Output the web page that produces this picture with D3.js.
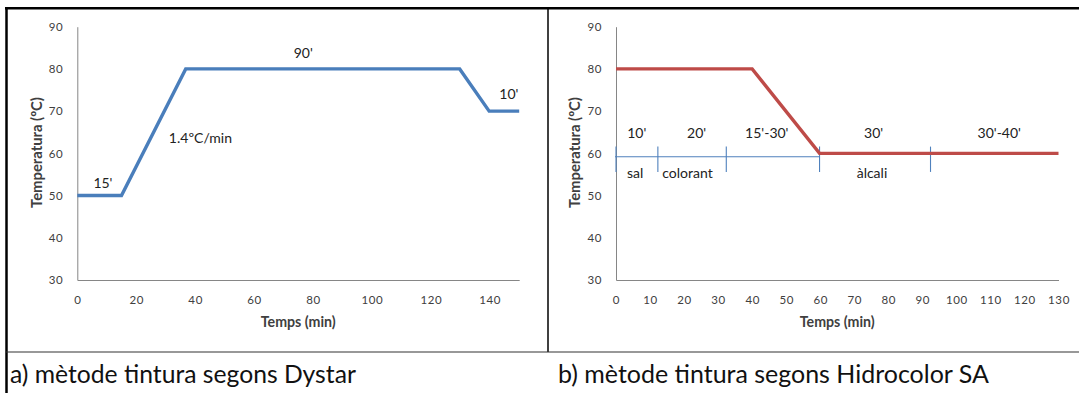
<!DOCTYPE html>
<html><head><meta charset="utf-8">
<script src="https://cdn.jsdelivr.net/npm/d3@7"></script>
<style>
html,body{margin:0;padding:0;background:#fff;}
svg{display:block;}
text{font-family:Lato,"Open Sans",sans-serif;}
</style></head>
<body>
<svg id="c" width="1079" height="393"></svg>
<script>
// ---- data ----
const yTicks = [30, 40, 50, 60, 70, 80, 90];
const xTicksA = [0, 20, 40, 60, 80, 100, 120, 140];
const xTicksB = [0, 10, 20, 30, 40, 50, 60, 70, 80, 90, 100, 110, 120, 130];

const dystarTime = [0, 15, 36.8, 129.8, 139.8, 150];
const dystarTemp = [50, 50, 80, 80, 70, 70];

const hidroTime = [0, 40, 59.8, 130];
const hidroTemp = [80, 80, 60, 60];

const annA = ["15'", "1.4ºC/min", "90'", "10'"];
const annAx = [8.7, 41.8, 76.7, 146.5];
const annAy = [52.9, 63.6, 83.7, 74.1];

const phaseTop = ["10'", "20'", "15'-30'", "30'", "30'-40'"];
const phaseTopX = [6.1, 23.7, 44.3, 75.7, 112.6];
const phaseTopY = 64.7;
const phaseBot = ["sal", "colorant", "àlcali"];
const phaseBotX = [5.6, 21, 75.2];
const phaseBotY = 55.3;
const phaseTicks = [0, 12.3, 32.4, 59.8, 92.4];
const phaseLineEnd = 59.8;
const phaseLineTemp = 59.2;
const phaseTickTop = 61.6, phaseTickBot = 55.6;

const captions = ["a) mètode tintura segons Dystar", "b) mètode tintura segons Hidrocolor SA"];
const xTitle = "Temps (min)";
const yTitle = "Temperatura (ºC)";

// ---- drawing ----
const svg = d3.select("#c");
const blue = "#4a7ebb", red = "#be4b48", axisCol = "#868686", txt = "#404040";

// frame
svg.append("line").attr("x1", 5).attr("x2", 1079).attr("y1", 8.3).attr("y2", 8.3).attr("stroke", "#000").attr("stroke-width", 2.5);
svg.append("line").attr("x1", 6.5).attr("x2", 6.5).attr("y1", 7).attr("y2", 393).attr("stroke", "#000").attr("stroke-width", 2.5);
svg.append("line").attr("x1", 548).attr("x2", 548).attr("y1", 8).attr("y2", 352).attr("stroke", "#000").attr("stroke-width", 1.5);
svg.append("line").attr("x1", 6).attr("x2", 1079).attr("y1", 352).attr("y2", 352).attr("stroke", "#333").attr("stroke-width", 1.2);

const y = d3.scaleLinear().domain([30, 90]).range([280, 26.7]);

function fitText(sel, w) {
  const l = sel.node().getComputedTextLength();
  const fs = parseFloat(sel.attr("font-size"));
  sel.attr("font-size", fs * w / l);
}

function panel(x, ticks, x0, titleX, yLabelRight) {
  const g = svg.append("g");
  // y axis
  const ya = g.append("g").attr("transform", `translate(${x0},0)`)
    .call(d3.axisLeft(y).tickValues(yTicks).tickSize(0).tickPadding(14));
  ya.select(".domain").attr("stroke", axisCol);
  ya.selectAll("text").attr("fill", txt).attr("font-size", 11.5).attr("font-family", "Lato").style("letter-spacing", "0.6px");
  // x axis
  const xa = g.append("g").attr("transform", `translate(0,${y(30)})`)
    .call(d3.axisBottom(x).tickValues(ticks).tickSize(0).tickPadding(16));
  xa.select(".domain").attr("stroke", axisCol);
  xa.selectAll("text").attr("fill", txt).attr("font-size", 11.5).attr("font-family", "Lato").style("letter-spacing", "0.6px");
  // titles
  const xt = g.append("text").attr("x", (x.range()[0] + x.range()[1]) / 2).attr("y", 327)
    .attr("text-anchor", "middle").attr("font-weight", "bold").attr("font-size", 11.5).attr("fill", txt).text(xTitle);
  fitText(xt, 75);
  const yt = g.append("text").attr("transform", `translate(${titleX},152.5) rotate(-90)`)
    .attr("text-anchor", "middle").attr("dy", "0.35em").attr("font-weight", "bold").attr("font-size", 11.5).attr("fill", txt).text(yTitle);
  fitText(yt, 111);
  return g;
}

// Panel A
const xA = d3.scaleLinear().domain([0, 150]).range([77.3, 519.2]);
const gA = panel(xA, xTicksA, 77.3, 36.7);
gA.append("path")
  .datum(dystarTime.map((t, i) => [t, dystarTemp[i]]))
  .attr("d", d3.line().x(d => xA(d[0])).y(d => y(d[1])))
  .attr("fill", "none").attr("stroke", blue).attr("stroke-width", 3.4).attr("stroke-linejoin", "miter");
gA.selectAll("text.ann").data(annA).join("text").attr("class", "ann")
  .attr("x", (d, i) => xA(annAx[i])).attr("y", (d, i) => y(annAy[i])).attr("dy", "0.35em")
  .attr("text-anchor", "middle").attr("font-size", 14).attr("fill", "#222").text(d => d);

// Panel B
const xB = d3.scaleLinear().domain([0, 130]).range([616, 1058.5]);
const gB = panel(xB, xTicksB, 616, 575);
// phase annotation lines
gB.append("line").attr("x1", xB(-0.3)).attr("x2", xB(phaseLineEnd)).attr("y1", y(phaseLineTemp)).attr("y2", y(phaseLineTemp))
  .attr("stroke", "#4f81bd").attr("stroke-width", 1.1);
gB.selectAll("line.pt").data(phaseTicks).join("line").attr("class", "pt")
  .attr("x1", d => xB(d)).attr("x2", d => xB(d)).attr("y1", y(phaseTickTop)).attr("y2", y(phaseTickBot))
  .attr("stroke", "#4f81bd").attr("stroke-width", 1.1);
gB.append("path")
  .datum(hidroTime.map((t, i) => [t, hidroTemp[i]]))
  .attr("d", d3.line().x(d => xB(d[0])).y(d => y(d[1])))
  .attr("fill", "none").attr("stroke", red).attr("stroke-width", 3.4);
gB.selectAll("text.pt1").data(phaseTop).join("text").attr("class", "pt1")
  .attr("x", (d, i) => xB(phaseTopX[i])).attr("y", y(phaseTopY)).attr("dy", "0.35em")
  .attr("text-anchor", "middle").attr("font-size", 14).attr("fill", "#222").text(d => d);
gB.selectAll("text.pt2").data(phaseBot).join("text").attr("class", "pt2")
  .attr("x", (d, i) => xB(phaseBotX[i])).attr("y", y(phaseBotY)).attr("dy", "0.35em")
  .attr("text-anchor", "middle").attr("font-size", 14).attr("fill", "#222").text(d => d);

// captions
const capX = [10, 558], capW = [346, 431];
captions.forEach((c, i) => {
  const t = svg.append("text").attr("x", capX[i]).attr("y", 383).attr("font-size", 21).attr("fill", "#111").text(c);
  fitText(t, capW[i]);
});
</script>
</body></html>
